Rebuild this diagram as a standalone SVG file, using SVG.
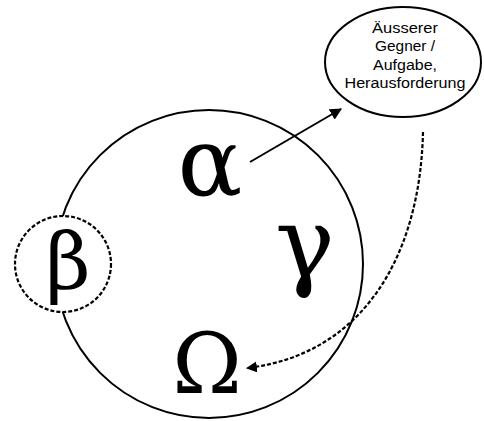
<svg xmlns="http://www.w3.org/2000/svg" width="484" height="421" viewBox="0 0 484 421">
<defs>
<style>
.line{fill:none;stroke:#000;stroke-width:2}
.dash{fill:none;stroke:#000;stroke-width:2.2;stroke-dasharray:4 2}
.greek{font-family:"DejaVu Serif","Liberation Serif",serif;fill:#000;text-anchor:middle}
.lbl{font-family:"Liberation Sans",Arial,sans-serif;font-size:14px;fill:#000;text-anchor:middle}
</style>
<marker id="ah" viewBox="0 0 10 10" refX="9" refY="5" markerWidth="6" markerHeight="6" orient="auto" markerUnits="strokeWidth">
<path d="M0,0 L10,5 L0,10 z" fill="#000"/>
</marker>
<marker id="ah2" viewBox="0 0 10 10" refX="9" refY="5" markerWidth="5" markerHeight="5" orient="auto" markerUnits="strokeWidth">
<path d="M0,0 L10,5 L0,10 z" fill="#000"/>
</marker>
</defs>
<rect width="484" height="421" fill="#fff"/>
<g id="main">
<circle class="line" cx="209" cy="264" r="154"/>
</g>
<g id="beta">
<circle class="dash" cx="63" cy="264" r="48" style="fill:#fff"/>
<text class="greek" x="68" y="289" font-size="78">β</text>
</g>
<g id="alpha"><text class="greek" x="210" y="195" font-size="96">α</text></g>
<g id="gamma"><text class="greek" x="305" y="277" font-size="100">γ</text></g>
<g id="omega"><text class="greek" x="207" y="393" font-size="84">Ω</text></g>
<g id="gegner">
<ellipse class="line" cx="403" cy="62" rx="78" ry="55" style="fill:#fff"/>
<text class="lbl" x="405" y="33" textLength="66" lengthAdjust="spacingAndGlyphs">Äusserer</text>
<text class="lbl" x="405" y="51" textLength="60" lengthAdjust="spacingAndGlyphs">Gegner /</text>
<text class="lbl" x="405" y="70" textLength="64" lengthAdjust="spacingAndGlyphs">Aufgabe,</text>
<text class="lbl" x="405" y="88" textLength="121" lengthAdjust="spacingAndGlyphs">Herausforderung</text>
</g>
<g id="connectors">
<line class="line" x1="250" y1="162" x2="341" y2="109" marker-end="url(#ah)"/>
<path class="dash" d="M423,132 C420,260 360,355 247,368" marker-end="url(#ah2)"/>
</g>
</svg>
